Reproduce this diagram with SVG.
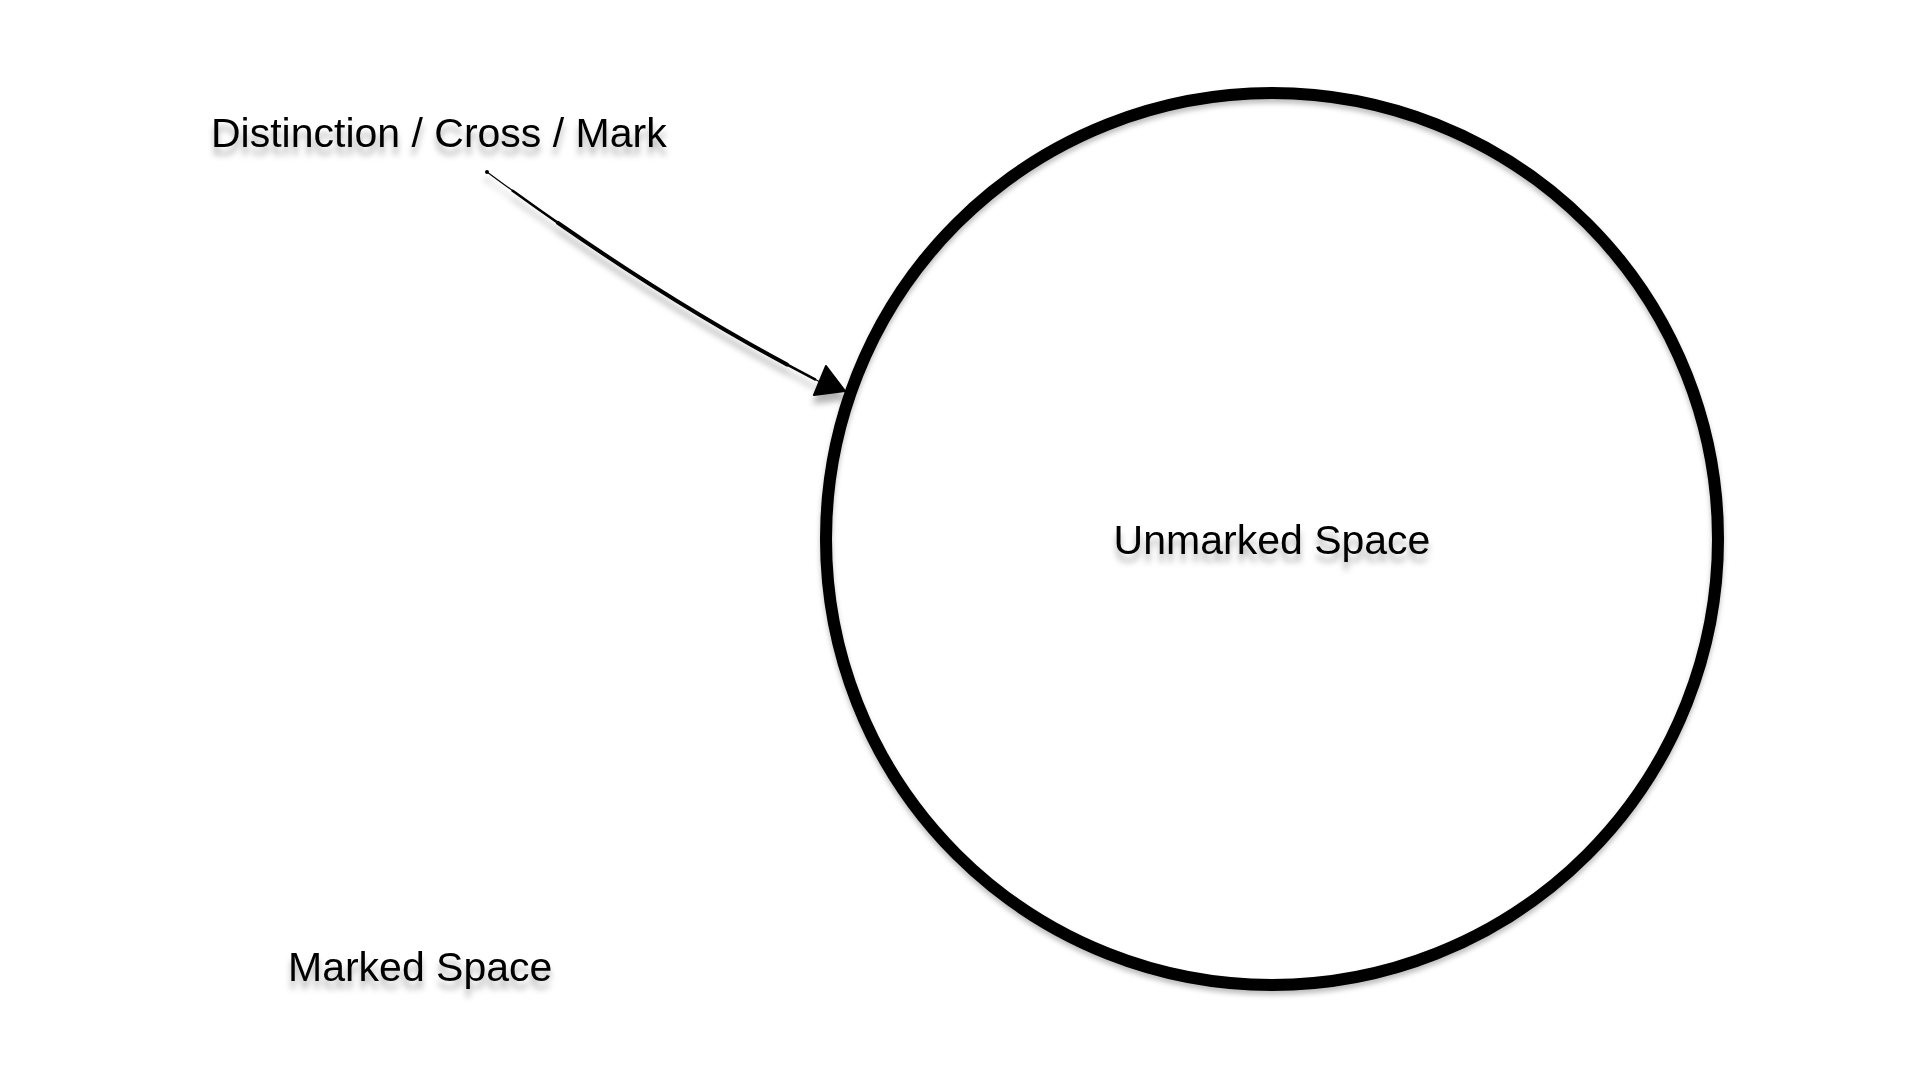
<svg xmlns="http://www.w3.org/2000/svg" width="1920" height="1080" viewBox="0 0 1920 1080">
  <style>
    .lbl { font-family: "Liberation Sans", Arial, Helvetica, sans-serif; font-size: 41px; fill: #000; }
    .arr { fill: none; stroke: #000; stroke-linecap: round; }
  </style>
  <defs>
    <filter id="shadow" x="-20%" y="-20%" width="140%" height="160%">
      <feDropShadow dx="0" dy="8" stdDeviation="3" flood-color="#000" flood-opacity="0.3"/>
    </filter>
    <filter id="shadowSoft" x="-10%" y="-10%" width="120%" height="120%">
      <feDropShadow dx="0" dy="4" stdDeviation="2.5" flood-color="#000" flood-opacity="0.25"/>
    </filter>
  </defs>
  <rect width="1920" height="1080" fill="#fff"/>

  <g id="unmarked-space">
    <circle cx="1272" cy="539" r="446" fill="none" stroke="#000" stroke-width="12" filter="url(#shadowSoft)"/>
    <text class="lbl" x="1272" y="554" text-anchor="middle" filter="url(#shadow)">Unmarked Space</text>
  </g>

  <g id="distinction">
    <text class="lbl" x="211" y="147" filter="url(#shadow)">Distinction / Cross / Mark</text>
  </g>

  <g id="marked-space">
    <text class="lbl" x="288" y="981" filter="url(#shadow)">Marked Space</text>
  </g>

  <g id="connectors" filter="url(#shadow)">
    <path class="arr" d="M487,172 Q660,300 822,383" stroke-width="1.2"/>
    <path class="arr" d="M487,172 Q660,300 822,383" stroke-width="2.6" pathLength="100" stroke-dasharray="0 8 90 100"/>
    <path class="arr" d="M487,172 Q660,300 822,383" stroke-width="4" pathLength="100" stroke-dasharray="0 22 68 100"/>
    <polygon points="845,391 814,395 826,366" fill="#000" stroke="#000" stroke-width="2" stroke-linejoin="round"/>
  </g>
</svg>
